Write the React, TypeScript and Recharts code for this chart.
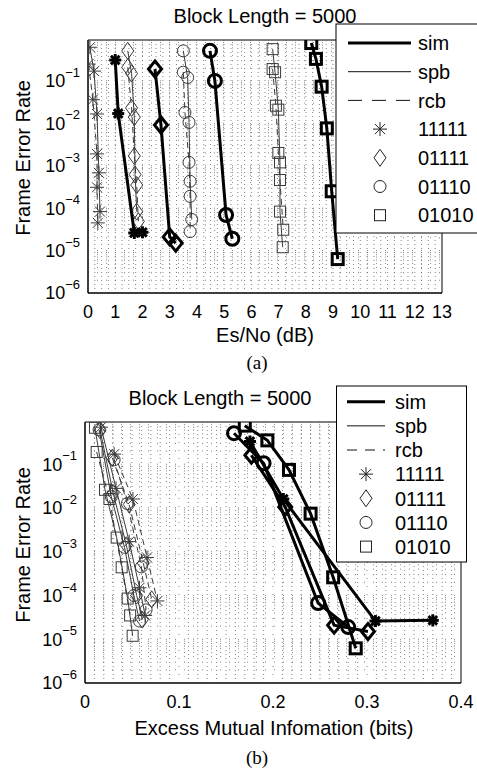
import { ScatterChart, Scatter, XAxis, YAxis, ReferenceLine, ReferenceArea } from "recharts";

type Pt = [number, number];

// (a) frame error rate vs Es/No (dB)
const simA11111: Pt[] = [[1.0, 0.31], [1.11, 0.017], [1.7, 2.6e-5], [2.0, 2.7e-5]];
const spbA11111: Pt[] = [[0.07, 0.62], [0.22, 0.17], [0.33, 0.0166], [0.4, 6.8e-4], [0.44, 8.3e-5]];
const rcbA11111: Pt[] = [[0.02, 0.25], [0.18, 0.036], [0.33, 1.9e-3], [0.33, 3.1e-4], [0.36, 4.5e-5]];
const simA01111: Pt[] = [[2.46, 0.19], [2.68, 9.1e-3], [3.0, 2.1e-5], [3.22, 1.5e-5]];
const spbA01111: Pt[] = [[1.46, 0.51], [1.6, 0.15], [1.7, 0.014], [1.73, 6.2e-4], [1.79, 8.3e-5]];
const rcbA01111: Pt[] = [[1.46, 0.21], [1.6, 0.023], [1.7, 1.7e-3], [1.79, 3.5e-4], [1.85, 4.9e-5]];
const simA01110: Pt[] = [[4.48, 0.51], [4.66, 0.1], [5.07, 6.9e-5], [5.3, 1.9e-5]];
const spbA01110: Pt[] = [[3.5, 0.51], [3.66, 0.12], [3.71, 0.0105], [3.75, 4.3e-4], [3.81, 5.4e-5]];
const rcbA01110: Pt[] = [[3.5, 0.16], [3.56, 0.018], [3.71, 1.2e-3], [3.75, 1.9e-4], [3.75, 2.8e-5]];
const simA01010: Pt[] = [[8.2, 0.78], [8.37, 0.33], [8.58, 0.073], [8.77, 7.6e-3], [8.95, 2.5e-4], [9.17, 6.3e-6]];
const spbA01010: Pt[] = [[6.78, 0.56], [6.87, 0.16], [6.99, 0.021], [7.05, 1.2e-3], [7.05, 8.3e-5], [7.15, 1.2e-5]];
const rcbA01010: Pt[] = [[6.78, 0.19], [6.9, 0.026], [6.99, 2.0e-3], [7.05, 4.6e-4], [7.17, 3.1e-5]];

// (b) frame error rate vs excess mutual information (bits)
const simB11111: Pt[] = [[0.1755, 0.33], [0.211, 0.016], [0.309, 2.6e-5], [0.37, 2.7e-5]];
const spbB11111: Pt[] = [[0.017, 0.7], [0.033, 0.028], [0.047, 1.7e-3], [0.058, 1.5e-4], [0.064, 3.5e-5]];
const rcbB11111: Pt[] = [[0.031, 0.17], [0.051, 0.016], [0.066, 7.4e-4], [0.077, 7.5e-5]];
const simB01111: Pt[] = [[0.177, 0.16], [0.213, 0.0105], [0.265, 2.1e-5], [0.301, 1.5e-5]];
const spbB01111: Pt[] = [[0.016, 0.6], [0.03, 0.022], [0.044, 1.4e-3], [0.055, 1.0e-4], [0.061, 2.8e-5]];
const rcbB01111: Pt[] = [[0.029, 0.14], [0.047, 0.012], [0.062, 5.5e-4], [0.071, 8.1e-5]];
const simB01110: Pt[] = [[0.1585, 0.51], [0.19, 0.105], [0.248, 6.7e-5], [0.28, 1.9e-5]];
const spbB01110: Pt[] = [[0.015, 0.61], [0.028, 0.018], [0.042, 1.26e-3], [0.052, 1.0e-4], [0.058, 2.6e-5]];
const rcbB01110: Pt[] = [[0.031, 0.126], [0.045, 0.0126], [0.06, 4.5e-4], [0.065, 4.7e-5]];
const simB01010: Pt[] = [[0.17, 0.76], [0.194, 0.35], [0.217, 0.074], [0.24, 7.4e-3], [0.264, 2.6e-4], [0.288, 6.2e-6]];
const spbB01010: Pt[] = [[0.0106, 0.68], [0.0213, 0.026], [0.0337, 2.1e-3], [0.0454, 8.5e-5], [0.0507, 1.2e-5]];
const rcbB01010: Pt[] = [[0.0124, 0.19], [0.026, 0.016], [0.039, 4.4e-4], [0.048, 3.5e-5]];

const codes = ["11111", "01111", "01110", "01010"];
const markers = ["star", "diamond", "circle", "square"];
const esnoTicks = [0, 1, 2, 3, 4, 5, 6, 7, 8, 9, 10, 11, 12, 13];
const emiTicks = [0, 0.1, 0.2, 0.3, 0.4];
const ferTicks = [1e-6, 1e-5, 1e-4, 1e-3, 1e-2, 1e-1];
const ferTop = 0.92;

const FONT = "'Liberation Sans', Arial, Helvetica, sans-serif";
const THIN = "#3a3a3a";

type Kind = "sim" | "spb" | "rcb";
const lineStyle: Record<Kind, any> = {
  sim: { stroke: "#000", strokeWidth: 3 },
  spb: { stroke: THIN, strokeWidth: 1 },
  rcb: { stroke: THIN, strokeWidth: 1, strokeDasharray: "6 4" },
};

function drawMarker(shape: string, cx: number, cy: number, thick: boolean, color: string) {
  const sw = thick ? 3 : 1;
  if (shape === "star") {
    const r = thick ? 6 : 7;
    const d = r * 0.72;
    return (
      <g stroke={color} strokeWidth={sw}>
        <line x1={cx - r} y1={cy} x2={cx + r} y2={cy} />
        <line x1={cx} y1={cy - r} x2={cx} y2={cy + r} />
        <line x1={cx - d} y1={cy - d} x2={cx + d} y2={cy + d} />
        <line x1={cx - d} y1={cy + d} x2={cx + d} y2={cy - d} />
      </g>
    );
  }
  if (shape === "diamond") {
    const rx = thick ? 6.5 : 6;
    const ry = thick ? 8 : 8.5;
    return (
      <polygon
        points={`${cx},${cy - ry} ${cx + rx},${cy} ${cx},${cy + ry} ${cx - rx},${cy}`}
        fill="none"
        stroke={color}
        strokeWidth={sw}
      />
    );
  }
  if (shape === "circle") {
    return <circle cx={cx} cy={cy} r={thick ? 6.5 : 6} fill="none" stroke={color} strokeWidth={sw} />;
  }
  const h = thick ? 5.5 : 5.5;
  return <rect x={cx - h} y={cy - h} width={2 * h} height={2 * h} fill="none" stroke={color} strokeWidth={sw} />;
}

function FerTick(props: any) {
  const { x, y, payload } = props;
  const e = Math.round(Math.log10(payload.value));
  return (
    <text x={x} y={y} textAnchor="end" fontSize={18} fontFamily={FONT} fill="#000">
      <tspan dy="0.36em">10</tspan>
      <tspan dy="-0.8em" fontSize={13}>{"\u2212" + Math.abs(e)}</tspan>
    </text>
  );
}

interface Series {
  data: Pt[];
  kind: Kind;
  shape: string;
}

interface PanelProps {
  top: number;
  height: number;
  margin: { top: number; right: number; bottom: number; left: number };
  xDomain: [number, number];
  xTicks: number[];
  xGrid: number[];
  xMajorGrid: number[];
  series: Series[];
}

const yGrid: number[] = [];
for (let d = -6; d <= -1; d++) {
  for (let m = 1; m <= 9; m++) {
    const v = m * Math.pow(10, d);
    if (v > 1e-6 && v < ferTop) yGrid.push(v);
  }
}

function Panel({ top, height, margin, xDomain, xTicks, xGrid, xMajorGrid, series }: PanelProps) {
  return (
    <div style={{ position: "absolute", left: 0, top }}>
      <ScatterChart width={477} height={height} margin={margin}>
        <XAxis
          type="number"
          dataKey="x"
          domain={xDomain}
          ticks={xTicks}
          interval={0}
          allowDataOverflow
          tickLine={false}
          tickSize={8}
          tickMargin={4}
          height={30}
          axisLine={{ stroke: "#000" }}
          tick={{ fill: "#000", fontSize: 18, fontFamily: FONT }}
        />
        <YAxis
          type="number"
          dataKey="y"
          scale="log"
          domain={[1e-6, ferTop]}
          ticks={ferTicks}
          interval={0}
          allowDataOverflow
          tickLine={false}
          tickSize={6}
          tickMargin={2}
          width={70}
          axisLine={{ stroke: "#000" }}
          tick={<FerTick />}
        />
        {yGrid.map((v) => (
          <ReferenceLine key={"h" + v} y={v} stroke="#666" strokeWidth={0.8} strokeDasharray="1 8" />
        ))}
        {xGrid.map((v) => (
          <ReferenceLine key={"v" + v} x={v} stroke="#666" strokeWidth={0.8} strokeDasharray="1 3" />
        ))}
        {xMajorGrid.map((v) => (
          <ReferenceLine key={"m" + v} x={v} stroke="#666" strokeWidth={0.8} strokeDasharray="1 7" />
        ))}
        <ReferenceArea x1={xDomain[0]} x2={xDomain[1]} y1={1e-6} y2={ferTop} fill="none" stroke="#000" strokeWidth={1} />
        {series.map((s, i) => {
          const color = s.kind === "sim" ? "#000" : THIN;
          return (
            <Scatter
              key={i}
              data={s.data.map(([x, y]) => ({ x, y }))}
              line={lineStyle[s.kind]}
              lineType="joint"
              fill={color}
              isAnimationActive={false}
              shape={(p: any) => drawMarker(s.shape, p.cx, p.cy, s.kind === "sim", color)}
            />
          );
        })}
      </ScatterChart>
    </div>
  );
}

function Legend({ x, y, w, h, rowY, gap, lineX1, lineX2, markX, textX, dash }: any) {
  const rows = ["sim", "spb", "rcb", ...codes];
  return (
    <svg style={{ position: "absolute", left: 0, top: 0 }} width={477} height={769}>
      <rect x={x} y={y} width={w} height={h} fill="#fff" stroke="#000" strokeWidth={1} />
      {rows.map((r, i) => {
        const cy = rowY + i * gap;
        return (
          <g key={r}>
            {i < 3 ? (
              <line
                x1={lineX1}
                y1={cy}
                x2={lineX2}
                y2={cy}
                stroke={i === 0 ? "#000" : "#111"}
                strokeWidth={i === 0 ? 3 : 1}
                strokeDasharray={i === 2 ? dash : undefined}
              />
            ) : (
              drawMarker(markers[i - 3], markX, cy, false, "#222")
            )}
            <text x={textX} y={cy} dy="0.36em" fontSize={20} fontFamily={FONT} fill="#000">
              {r}
            </text>
          </g>
        );
      })}
    </svg>
  );
}

function Label({ x, y, text, size = 20, rotate = false, serif = false }: any) {
  return (
    <div
      style={{
        position: "absolute",
        left: x,
        top: y,
        transform: `translate(-50%, -50%)${rotate ? " rotate(-90deg)" : ""}`,
        whiteSpace: "nowrap",
        fontSize: size,
        lineHeight: 1,
        fontFamily: serif ? "'Liberation Serif', 'Times New Roman', serif" : FONT,
        color: "#000",
      }}
    >
      {text}
    </div>
  );
}

const seriesA: Series[] = [
  { data: spbA11111, kind: "spb", shape: "star" },
  { data: rcbA11111, kind: "rcb", shape: "star" },
  { data: spbA01111, kind: "spb", shape: "diamond" },
  { data: rcbA01111, kind: "rcb", shape: "diamond" },
  { data: spbA01110, kind: "spb", shape: "circle" },
  { data: rcbA01110, kind: "rcb", shape: "circle" },
  { data: spbA01010, kind: "spb", shape: "square" },
  { data: rcbA01010, kind: "rcb", shape: "square" },
  { data: simA11111, kind: "sim", shape: "star" },
  { data: simA01111, kind: "sim", shape: "diamond" },
  { data: simA01110, kind: "sim", shape: "circle" },
  { data: simA01010, kind: "sim", shape: "square" },
];

const seriesB: Series[] = [
  { data: spbB11111, kind: "spb", shape: "star" },
  { data: rcbB11111, kind: "rcb", shape: "star" },
  { data: spbB01111, kind: "spb", shape: "diamond" },
  { data: rcbB01111, kind: "rcb", shape: "diamond" },
  { data: spbB01110, kind: "spb", shape: "circle" },
  { data: rcbB01110, kind: "rcb", shape: "circle" },
  { data: spbB01010, kind: "spb", shape: "square" },
  { data: rcbB01010, kind: "rcb", shape: "square" },
  { data: simB11111, kind: "sim", shape: "star" },
  { data: simB01111, kind: "sim", shape: "diamond" },
  { data: simB01110, kind: "sim", shape: "circle" },
  { data: simB01010, kind: "sim", shape: "square" },
];

const gridA: number[] = [];
for (let i = 1; i < 52; i++) gridA.push(i * 0.25);
const gridB: number[] = [];
for (let i = 1; i < 40; i++) if (i % 10 !== 0) gridB.push(i / 100);

export default function App() {
  return (
    <div style={{ position: "absolute", left: 0, top: 0, width: 477, height: 769, overflow: "hidden", background: "#fff" }}>
      <Panel
        top={0}
        height={380}
        margin={{ top: 40, right: 35, bottom: 57, left: 18 }}
        xDomain={[0, 13]}
        xTicks={esnoTicks}
        xGrid={gridA}
        xMajorGrid={[]}
        series={seriesA}
      />
      <Panel
        top={380}
        height={389}
        margin={{ top: 42, right: 16, bottom: 56, left: 15 }}
        xDomain={[0, 0.4]}
        xTicks={emiTicks}
        xGrid={gridB}
        xMajorGrid={[0.1, 0.2, 0.3]}
        series={seriesB}
      />
      <Legend x={336} y={24} w={150} h={209} rowY={43} gap={28.7} lineX1={348} lineX2={411} markX={380} textX={418} dash="14 10" />
      <Legend x={336.5} y={386} w={130} h={176} rowY={401.7} gap={24.15} lineX1={347} lineX2={385} markX={366} textX={395} dash="10 8" />
      <Label x={265} y={16} text="Block Length = 5000" />
      <Label x={220} y={398} text="Block Length = 5000" />
      <Label x={23} y={158} text="Frame Error Rate" rotate />
      <Label x={23} y={545} text="Frame Error Rate" rotate />
      <Label x={265} y={335} text="Es/No (dB)" />
      <Label x={274} y={728} text="Excess Mutual Infomation (bits)" />
      <Label x={257} y={362} text="(a)" size={19} serif />
      <Label x={257} y={757} text="(b)" size={19} serif />
    </div>
  );
}
